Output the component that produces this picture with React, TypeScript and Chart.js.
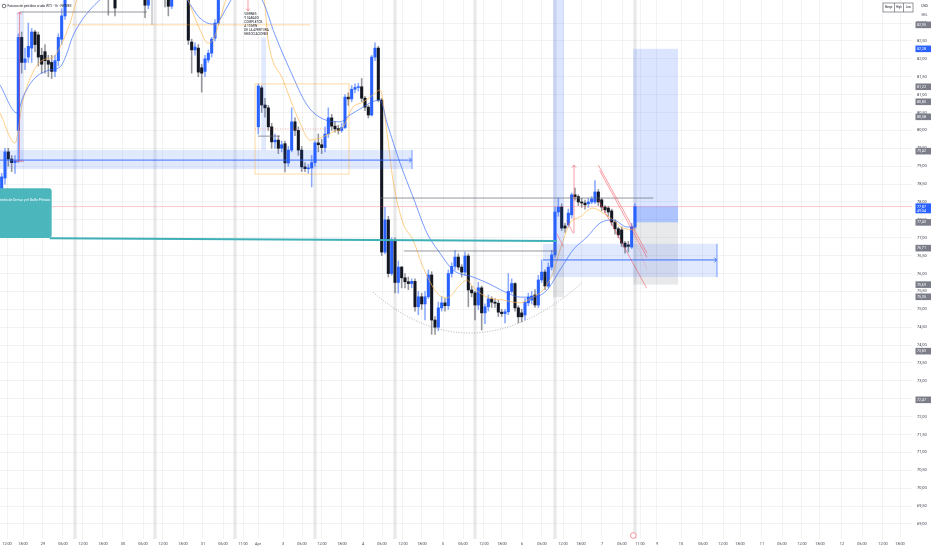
import { useEffect, useRef } from "react";
import { Chart, registerables } from "chart.js";

Chart.register(...registerables);

// ---------- candles (one per hourly slot, index = slot) ----------
const OPEN = [
  78.05, 78.67, 79.4, 79.2, 79.1, 80.0, 82.6, 81.9, 82.05, 82.3,
  82.75, 82.67, 82.1, 82.2, 81.95, 81.9, 81.65, 81.95, 82.55, 83.2,
  83.9, 84.2, 84.5, 84.3, 84.8, 85.0, 84.8, 84.6, 84.7, 84.9,
  84.7, 84.4, 84.1, 83.9, 84.3, 83.75, 84.0, 84.2, 84.4, 84.3,
  84.1, 83.95, 84.05, 84.0, 83.5, 83.8, 84.1, 84.0, 84.2, 84.3,
  83.9, 83.47, 83.85, 84.15, 84.0, 84.05, 83.8, 82.47, 82.25, 82.3,
  81.75, 81.65, 81.97, 82.16, 82.58, 83.0, 83.7, 84.1, 84.4, 84.6,
  84.5, 84.4, 84.3, 84.2, 84.1, 84.0, 83.95, 80.1, 81.19, 80.71,
  80.63, 80.1, 79.68, 79.73, 79.5, 79.63, 79.09, 79.45, 80.24, 80.0,
  79.45, 78.98, 78.93, 78.95, 79.1, 79.65, 79.6, 79.52, 79.9, 80.35,
  80.12, 80.05, 80.0, 80.08, 80.93, 80.88, 81.15, 81.2, 81.22, 80.9,
  80.65, 80.43, 82.05, 82.3, 80.85, 76.6, 77.5, 76.0, 76.9, 75.75,
  76.18, 75.88, 75.77, 75.72, 75.78, 75.07, 75.35, 75.15, 75.35, 75.96,
  74.7, 74.5, 75.04, 75.18, 75.1, 76.0, 76.2, 76.46, 76.18, 76.04,
  76.49, 75.54, 75.46, 75.12, 75.6, 74.9, 75.07, 75.29, 75.2, 75.17,
  74.92, 74.88, 74.93, 75.5, 75.72, 75.04, 74.9, 74.84, 75.18, 75.26,
  75.4, 75.12, 75.82, 76.04, 75.65, 76.18, 76.52, 77.72, 77.86, 77.33,
  77.36, 77.64, 78.2, 78.15, 78.0, 77.97, 77.95, 78.0, 78.0, 78.28,
  78.06, 77.86, 77.83, 77.75, 77.44, 77.25, 77.22, 76.85, 76.8, 76.74,
  77.3,
];
const HIGH = [
  78.8, 79.5, 79.5, 79.3, 79.3, 82.7, 82.75, 82.3, 83.0, 82.85,
  82.8, 82.75, 82.3, 82.4, 82.1, 82.1, 82.1, 82.7, 83.4, 84.1,
  84.4, 84.7, 84.8, 84.9, 85.2, 85.3, 85.0, 84.9, 85.1, 85.2,
  84.9, 84.6, 84.3, 84.4, 84.5, 84.2, 84.4, 84.6, 84.7, 84.5,
  84.3, 84.2, 84.2, 84.1, 83.9, 84.2, 84.4, 84.3, 84.5, 84.4,
  84.0, 83.95, 84.3, 84.4, 84.2, 84.2, 83.9, 82.55, 82.45, 82.4,
  81.85, 82.1, 82.25, 82.6, 83.1, 83.9, 84.3, 84.5, 84.8, 84.9,
  84.7, 84.6, 84.5, 84.4, 84.3, 84.2, 84.1, 81.3, 81.25, 80.9,
  80.7, 80.2, 79.9, 79.85, 79.7, 79.7, 79.55, 80.63, 80.35, 80.1,
  79.55, 79.1, 79.05, 79.3, 79.7, 79.9, 79.75, 80.1, 80.63, 80.45,
  80.25, 80.15, 80.2, 81.0, 81.05, 81.25, 81.3, 81.32, 81.45, 80.95,
  80.7, 82.1, 82.45, 82.35, 80.9, 77.85, 77.6, 77.0, 77.0, 76.35,
  76.2, 76.0, 75.9, 75.85, 75.85, 75.5, 75.45, 75.5, 76.1, 76.05,
  74.8, 75.2, 75.35, 75.3, 76.1, 76.3, 76.65, 76.55, 76.25, 76.6,
  76.55, 75.65, 75.5, 75.75, 75.65, 75.15, 75.4, 75.35, 75.3, 75.25,
  75.0, 75.0, 76.0, 75.85, 75.75, 75.1, 75.0, 75.3, 75.45, 75.5,
  75.55, 75.95, 76.38, 76.1, 76.3, 76.65, 77.85, 78.11, 77.95, 77.4,
  77.8, 78.25, 78.39, 78.2, 78.1, 78.05, 78.1, 78.15, 78.6, 78.35,
  78.1, 77.9, 77.88, 77.8, 77.5, 77.3, 77.3, 76.9, 76.9, 77.4,
  77.95,
];
const LOW = [
  77.8, 78.5, 79.0, 78.85, 78.8, 79.1, 81.6, 81.7, 81.9, 81.9,
  82.2, 81.8, 81.6, 81.6, 81.5, 81.45, 81.5, 81.8, 82.4, 83.1,
  83.7, 84.0, 84.1, 84.2, 84.5, 84.6, 84.4, 84.3, 84.5, 84.6,
  84.2, 83.9, 83.22, 83.8, 83.2, 83.7, 83.8, 84.0, 84.1, 83.9,
  83.8, 83.75, 83.7, 83.15, 83.4, 83.7, 83.9, 83.75, 84.0, 83.45,
  83.2, 83.4, 83.75, 83.9, 83.8, 83.7, 82.4, 81.6, 82.1, 81.5,
  81.07, 81.5, 81.9, 82.05, 82.5, 82.95, 83.65, 83.9, 84.2, 84.3,
  84.2, 84.1, 84.0, 83.9, 83.85, 83.8, 83.75, 79.9, 80.5, 80.37,
  80.0, 79.5, 79.5, 79.35, 79.4, 78.84, 79.0, 79.4, 79.85, 79.3,
  78.85, 78.85, 78.8, 78.42, 79.0, 79.4, 79.35, 79.4, 79.8, 80.0,
  79.95, 79.9, 79.95, 80.05, 80.7, 80.8, 81.05, 81.1, 80.8, 80.55,
  80.35, 80.4, 81.95, 80.8, 76.5, 76.55, 75.9, 75.95, 75.46, 75.45,
  75.6, 75.6, 75.55, 75.6, 74.95, 74.85, 75.0, 74.7, 75.3, 74.3,
  74.3, 74.4, 74.95, 74.95, 75.0, 75.9, 76.1, 76.1, 75.9, 75.95,
  75.07, 75.35, 74.7, 75.0, 74.42, 74.6, 74.95, 75.05, 75.05, 74.8,
  74.8, 74.62, 74.85, 75.45, 74.95, 74.62, 74.65, 74.7, 75.1, 75.15,
  75.05, 75.05, 75.75, 75.55, 75.6, 76.1, 76.45, 77.6, 77.2, 77.15,
  77.3, 77.55, 78.05, 77.9, 77.85, 77.8, 77.85, 77.95, 77.95, 77.9,
  77.75, 77.7, 77.6, 77.35, 77.1, 77.0, 76.75, 76.57, 76.6, 76.7,
  77.25,
];
const CLOSE = [
  78.7, 79.4, 79.2, 79.1, 79.15, 82.6, 81.9, 82.0, 82.35, 82.75,
  82.4, 82.05, 81.85, 81.95, 81.85, 81.65, 81.95, 82.6, 83.2, 83.9,
  84.2, 84.5, 84.3, 84.8, 85.0, 84.8, 84.6, 84.7, 84.9, 84.7,
  84.4, 84.1, 83.9, 84.3, 83.42, 84.0, 84.2, 84.4, 84.3, 84.1,
  83.95, 84.05, 83.8, 83.5, 83.8, 84.1, 84.0, 84.2, 84.3, 83.9,
  83.47, 83.85, 84.15, 84.0, 84.05, 83.8, 82.52, 82.25, 82.33, 81.63,
  81.6, 82.0, 82.16, 82.55, 83.0, 83.7, 84.1, 84.4, 84.6, 84.5,
  84.4, 84.3, 84.2, 84.1, 84.0, 83.95, 83.9, 81.24, 80.71, 80.63,
  80.1, 79.68, 79.73, 79.5, 79.6, 79.09, 79.45, 80.24, 80.0, 79.45,
  78.98, 78.93, 78.95, 79.1, 79.65, 79.6, 79.52, 79.9, 80.35, 80.12,
  80.04, 80.0, 80.08, 80.93, 80.88, 81.15, 81.2, 81.22, 80.9, 80.65,
  80.43, 82.05, 82.3, 80.85, 76.6, 77.5, 76.0, 76.9, 75.75, 76.18,
  75.88, 75.77, 75.72, 75.78, 75.07, 75.35, 75.15, 75.35, 75.96, 74.7,
  74.5, 75.04, 75.18, 75.1, 76.0, 76.2, 76.46, 76.18, 76.04, 76.49,
  75.54, 75.46, 75.12, 75.6, 74.9, 75.07, 75.29, 75.2, 75.17, 74.92,
  74.88, 74.93, 75.5, 75.72, 75.04, 74.79, 74.79, 75.2, 75.34, 75.37,
  75.12, 75.82, 76.04, 75.65, 76.18, 76.52, 77.72, 77.86, 77.27, 77.27,
  77.69, 78.2, 78.15, 78.0, 77.97, 77.92, 78.0, 78.08, 78.28, 78.0,
  77.86, 77.78, 77.72, 77.44, 77.25, 77.08, 76.85, 76.74, 76.76, 77.3,
  77.87,
];

// ---------- moving averages (slot, price) ----------
const EMA_SLOW_X = [0, 5.1, 6.9, 9.9, 15, 18, 20.1, 21.6, 24, 27, 30, 33, 36, 45, 52.5, 56.1, 60, 63.9, 65.4, 68.1, 70.5, 75, 78.6, 82.5, 87, 92.1, 96.9, 102, 105, 108.9, 111, 114, 116.1, 120, 123.9, 128.1, 132, 135.9, 141.9, 146.1, 152.1, 156, 159.9, 164.1, 168, 171.9, 176.1, 180, 183.9, 188.1, 190.5];
const EMA_SLOW_Y = [81.27, 80.49, 80.93, 81.41, 81.69, 81.77, 82.16, 82.58, 83.0, 83.37, 83.65, 83.9, 84.2, 84.5, 84.05, 83.65, 83.14, 82.97, 83.03, 83.45, 83.8, 83.93, 83.65, 82.67, 81.69, 80.71, 80.32, 80.24, 80.43, 80.65, 80.77, 80.85, 80.21, 79.09, 78.14, 77.13, 76.57, 76.1, 75.9, 75.74, 75.46, 75.34, 75.34, 75.54, 76.1, 76.66, 77.02, 77.41, 77.5, 77.3, 77.3];
const EMA_FAST_X = [0, 4.5, 6.9, 9.9, 12.9, 15.9, 18.6, 21, 23.1, 30, 42, 54, 56.4, 60, 62.4, 64.2, 66, 67.8, 72, 79.2, 80.4, 84.9, 90, 93, 96.9, 99.9, 102.9, 105.9, 108.9, 111.9, 114, 116.1, 117.9, 120.9, 123.9, 126.9, 131.1, 134.1, 138, 140.1, 141.9, 146.1, 150.9, 156, 159.9, 162.9, 165.9, 168, 171, 174, 177.9, 180.9, 183.9, 186.9, 190.5];
const EMA_FAST_Y = [80.49, 79.65, 80.85, 81.63, 81.97, 82.05, 82.44, 83.0, 83.65, 84.5, 84.6, 84.2, 83.65, 82.81, 82.44, 82.58, 83.09, 83.65, 84.05, 83.65, 82.53, 81.41, 80.21, 79.73, 79.82, 79.96, 80.1, 80.65, 80.79, 80.99, 81.13, 79.93, 78.61, 77.41, 76.94, 76.18, 75.46, 75.32, 75.68, 75.82, 75.62, 75.34, 75.26, 75.18, 75.34, 75.54, 76.02, 76.66, 77.41, 77.58, 77.83, 77.69, 77.5, 77.27, 77.22];

// ---------- axes ----------
const X_TICK_SLOTS = [2.1, 6.9, 12.9, 18.9, 24.9, 30.9, 36.9, 42.9, 48.9, 54.9, 60.9, 66.9, 72.9, 77.4, 84.9, 90.6, 96.6, 102.6, 108.9, 114.6, 120.9, 126.6, 132.9, 138.9, 145.2, 150.6, 156.6, 162.6, 168.9, 174.3, 180.6, 186.6, 192.0, 197.1, 204.3, 210.9, 216.9, 222.0, 228.6, 234.6, 240.6, 246.0, 252.6, 258.6, 264.9, 270.0];
const X_TICK_LABELS = ["12:00", "18:00", "29", "06:00", "12:00", "18:00", "30", "06:00", "12:00", "18:00", "31", "06:00", "11:00", "Apr", "3", "06:00", "12:00", "18:00", "4", "06:00", "12:00", "18:00", "5", "06:00", "12:00", "18:00", "6", "06:00", "12:00", "18:00", "7", "06:00", "11:00", "9", "10", "06:00", "12:00", "18:00", "11", "06:00", "12:00", "18:00", "12", "06:00", "12:00", "18:00"];
const Y_TICKS = [69, 69.5, 70, 70.5, 71, 71.5, 72, 72.5, 73, 73.5, 74, 74.5, 75, 75.5, 76, 76.5, 77, 77.5, 78, 78.5, 79, 79.5, 80, 80.5, 81, 81.5, 82, 82.5, 83];
const X_MIN = 0, X_MAX = 273.6;
const Y_MIN = 68.58, Y_MAX = 83.645;

// ---------- drawings (data units: slot, price) ----------
const SESSION_BREAKS = [22, 46, 70, 94, 118, 142, 166, 190];
const LAST_PRICE = 77.87;
const COUNTDOWN = "49:54";
const SUPPORT_BANDS = [
  { x0: 0, x1: 123.6, top: 79.45, bottom: 78.92, mid: 79.17 },
  { x0: 162.9, x1: 215.1, top: 76.83, bottom: 75.9, mid: 76.38 },
];
const LONG_POSITIONS = [
  { x0: 165.9, x1: 169.2, target: 84.2, entry: 76.83, stop: 75.34, live: false },
  { x0: 190.0, x1: 203.4, target: 82.28, entry: 77.43, stop: 75.69, live: true },
];
const MEASURE_STRIPS = [
  { x0: 5.0, x1: 7.0, top: 83.31, bottom: 79.11 },
  { x0: 78.4, x1: 79.8, top: 82.6, bottom: 79.45 },
];
const GRAY_LINES = [
  { x0: 6, x1: 44.1, p: 83.31 },
  { x0: 114, x1: 196, p: 78.11 },
  { x0: 121.2, x1: 167.1, p: 76.63 },
  { x0: 77.4, x1: 84, p: 79.84 },
];
const GRAY_VLINE = { x: 45.6, from: 83.65, to: 82.95 };
const ORANGE_BOX = { x0: 76.5, x1: 104.7, top: 81.3, bottom: 78.78 };
const ORANGE_LINE = { x0: 21.6, x1: 93.0, p: 82.95 };
const PINK_DOTTED = { x0: 76.5, x1: 99, p: 80.04 };
const CALLOUT = { x0: -6, x1: 15.5, top: 78.38, bottom: 76.99, textP: 78.05, text: "Estrecho de Ormuz y el Golfo Pérsico", toX: 167.1, toP: 76.91 };
const ARC = [[111.9, 75.48], [142.5, 74.34], [174.6, 75.74]];
const CHANNEL = [
  [[179.5, 79.03], [194.1, 76.57]],
  [[179.9, 78.88], [194.1, 76.45]],
  [[179.5, 78.06], [194.0, 75.59]],
];
const CHANNEL_MID = [[190.0, 77.1], [194.1, 76.1]];
const UP_ARROW = { x: 172.2, from: 77.13, to: 79.03 };
const ZIGZAG = [
  [[167.0, 77.12], [169.0, 76.75]],
  [[170.0, 77.48], [172.0, 77.12]],
];
const RANGE_ARROW = { x: 5.85, from: 79.14, to: 83.31, t0: 4.5, t1: 7.2 };
const NOTE = {
  x: 73.3, arrowX: 74.4, arrowFrom: 83.65, arrowTo: 83.34,
  lines: ["VIERNES", "Y SABADO", "COMPLETOS", "A 10 MIN", "DE LA APERTURA", "NEGOCIACIONES"],
  prices: [83.25, 83.13, 83.02, 82.91, 82.8, 82.69],
};
const AXIS_TAGS = [
  { v: 82.95, blue: false }, { v: 82.28, blue: true }, { v: 81.22, blue: false },
  { v: 80.8, blue: false }, { v: 80.38, blue: false }, { v: 79.42, blue: false },
  { v: 77.87, blue: true, sub: COUNTDOWN }, { v: 77.43, blue: false }, { v: 76.71, blue: false },
  { v: 75.69, blue: false }, { v: 75.35, blue: false }, { v: 73.83, blue: false }, { v: 72.47, blue: false },
];
const TITLE = "Futuros de petróleo crudo WTI · 1h · NYMEX";
const EVENT_SLOT = 190;

const FONT = "Roboto, 'Liberation Sans', Arial, sans-serif";
const fmt = (v: number) => v.toFixed(2).replace(".", ",");

const zeroPadding = (s: any) => {
  s.paddingTop = 0;
  s.paddingBottom = 0;
  s.paddingLeft = 0;
  s.paddingRight = 0;
};

const drawings = {
  id: "tvDrawings",
  beforeDatasetsDraw(chart: any) {
    const { ctx, chartArea: a, scales } = chart;
    const X = (v: number) => scales.x.getPixelForValue(v);
    ctx.save();
    ctx.fillStyle = "rgba(120,123,134,0.17)";
    for (const s of SESSION_BREAKS) {
      const c = X(s + 0.5);
      ctx.fillRect(c - 1.6, a.top, 3.2, a.bottom - a.top);
    }
    ctx.restore();
  },
  afterDatasetsDraw(chart: any) {
    const { ctx, chartArea: a, scales } = chart;
    const X = (v: number) => scales.x.getPixelForValue(v);
    const Y = (v: number) => scales.y.getPixelForValue(v);
    const rect = (x0: number, x1: number, p0: number, p1: number, fill: string) => {
      const l = X(x0), r = X(x1), t = Y(Math.max(p0, p1)), b = Y(Math.min(p0, p1));
      ctx.fillStyle = fill;
      ctx.fillRect(l, t, r - l, b - t);
    };
    const seg = (x0: number, y0: number, x1: number, y1: number, color: string, w: number, dash: number[] = []) => {
      ctx.beginPath();
      ctx.setLineDash(dash);
      ctx.strokeStyle = color;
      ctx.lineWidth = w;
      ctx.moveTo(x0, y0);
      ctx.lineTo(x1, y1);
      ctx.stroke();
      ctx.setLineDash([]);
    };
    ctx.save();
    ctx.beginPath();
    ctx.rect(a.left, a.top, a.right - a.left, a.bottom - a.top);
    ctx.clip();

    // last price line
    seg(a.left, Y(LAST_PRICE), a.right, Y(LAST_PRICE), "rgba(242,54,69,0.35)", 0.8);

    // measure strips
    for (const m of MEASURE_STRIPS) rect(m.x0, m.x1, m.top, m.bottom, "rgba(41,98,255,0.14)");

    // long positions
    for (const lp of LONG_POSITIONS) {
      rect(lp.x0, lp.x1, lp.target, lp.entry, "rgba(41,98,255,0.17)");
      if (lp.live) rect(lp.x0, lp.x1, LAST_PRICE, lp.entry, "rgba(41,98,255,0.25)");
      rect(lp.x0, lp.x1, lp.entry, lp.stop, "rgba(120,123,134,0.17)");
    }

    // support bands with arrow
    for (const b of SUPPORT_BANDS) {
      rect(b.x0, b.x1, b.top, b.bottom, "rgba(41,98,255,0.14)");
      const r = X(b.x1), m = Y(b.mid);
      seg(X(b.x0), m, r - 0.5, m, "#2962ff", 0.9);
      seg(r - 2.6, m - 2.4, r - 0.5, m, "#2962ff", 0.8);
      seg(r - 2.6, m + 2.4, r - 0.5, m, "#2962ff", 0.8);
      seg(r, Y(b.top), r, Y(b.bottom), "rgba(41,98,255,0.8)", 0.8);
    }

    // orange box and line
    ctx.strokeStyle = "rgba(255,152,0,0.45)";
    ctx.lineWidth = 0.8;
    ctx.strokeRect(X(ORANGE_BOX.x0), Y(ORANGE_BOX.top), X(ORANGE_BOX.x1) - X(ORANGE_BOX.x0), Y(ORANGE_BOX.bottom) - Y(ORANGE_BOX.top));
    seg(X(ORANGE_LINE.x0), Y(ORANGE_LINE.p), X(ORANGE_LINE.x1), Y(ORANGE_LINE.p), "rgba(255,152,0,0.45)", 0.8);
    seg(X(PINK_DOTTED.x0), Y(PINK_DOTTED.p), X(PINK_DOTTED.x1), Y(PINK_DOTTED.p), "rgba(242,54,69,0.55)", 0.7, [1, 1.5]);

    // gray lines
    for (const g of GRAY_LINES) seg(X(g.x0), Y(g.p), X(g.x1), Y(g.p), "rgba(99,102,112,0.85)", 0.8);
    seg(X(GRAY_VLINE.x), Y(GRAY_VLINE.from), X(GRAY_VLINE.x), Y(GRAY_VLINE.to), "rgba(99,102,112,0.7)", 0.8);

    // teal callout
    const cl = X(CALLOUT.x0), cr = X(CALLOUT.x1), ct = Y(CALLOUT.top), cb = Y(CALLOUT.bottom);
    seg(cr - 2, cb + 0.2, X(CALLOUT.toX), Y(CALLOUT.toP), "#3fb0b8", 2);
    ctx.fillStyle = "#4cb6bd";
    ctx.beginPath();
    ctx.roundRect(cl, ct, cr - cl, cb - ct, 3);
    ctx.fill();
    ctx.fillStyle = "#ffffff";
    ctx.font = `3.4px ${FONT}`;
    ctx.textAlign = "right";
    ctx.textBaseline = "middle";
    ctx.fillText(CALLOUT.text, cr - 1.5, Y(CALLOUT.textP));

    // dotted arc
    const [s, mm, e] = ARC.map(([xv, pv]) => [X(xv), Y(pv)]);
    ctx.beginPath();
    ctx.setLineDash([1, 1.6]);
    ctx.strokeStyle = "rgba(120,123,134,0.75)";
    ctx.lineWidth = 0.8;
    ctx.moveTo(s[0], s[1]);
    ctx.quadraticCurveTo(2 * mm[0] - (s[0] + e[0]) / 2, 2 * mm[1] - (s[1] + e[1]) / 2, e[0], e[1]);
    ctx.stroke();
    ctx.setLineDash([]);

    // pink channel
    for (const [[x0, p0], [x1, p1]] of CHANNEL) seg(X(x0), Y(p0), X(x1), Y(p1), "rgba(242,54,69,0.6)", 0.8);
    seg(X(CHANNEL_MID[0][0]), Y(CHANNEL_MID[0][1]), X(CHANNEL_MID[1][0]), Y(CHANNEL_MID[1][1]), "rgba(242,54,69,0.5)", 0.7, [1, 1.5]);
    for (const [[x0, p0], [x1, p1]] of ZIGZAG) seg(X(x0), Y(p0), X(x1), Y(p1), "rgba(242,54,69,0.55)", 0.8);

    // up arrow
    const ux = X(UP_ARROW.x), ut = Y(UP_ARROW.to);
    seg(ux, Y(UP_ARROW.from), ux, ut, "rgba(242,54,69,0.6)", 0.8);
    seg(ux - 2.2, ut + 2.6, ux, ut, "rgba(242,54,69,0.6)", 0.8);
    seg(ux + 2.2, ut + 2.6, ux, ut, "rgba(242,54,69,0.6)", 0.8);

    // price range arrow (left)
    const rx = X(RANGE_ARROW.x), rt = Y(RANGE_ARROW.to), rb = Y(RANGE_ARROW.from);
    seg(rx, rb, rx, rt, "rgba(242,54,69,0.6)", 0.8);
    seg(rx - 2.2, rt + 2.6, rx, rt, "rgba(242,54,69,0.6)", 0.8);
    seg(rx + 2.2, rt + 2.6, rx, rt, "rgba(242,54,69,0.6)", 0.8);
    seg(X(RANGE_ARROW.t0), rb, X(RANGE_ARROW.t1), rb, "rgba(242,54,69,0.6)", 0.8);

    // note with down arrow
    const nx = X(NOTE.arrowX), nb = Y(NOTE.arrowTo);
    seg(nx, Y(NOTE.arrowFrom), nx, nb, "rgba(242,54,69,0.6)", 0.8);
    seg(nx - 1.8, nb - 2.2, nx, nb, "rgba(242,54,69,0.6)", 0.8);
    seg(nx + 1.8, nb - 2.2, nx, nb, "rgba(242,54,69,0.6)", 0.8);
    ctx.fillStyle = "#131722";
    ctx.font = `3.1px ${FONT}`;
    ctx.textAlign = "left";
    ctx.textBaseline = "middle";
    NOTE.lines.forEach((t, i) => ctx.fillText(t, X(NOTE.x), Y(NOTE.prices[i])));

    ctx.restore();
  },
  afterDraw(chart: any) {
    const { ctx, chartArea: a, scales } = chart;
    const X = (v: number) => scales.x.getPixelForValue(v);
    const Y = (v: number) => scales.y.getPixelForValue(v);
    ctx.save();
    // price tags on axis
    ctx.textAlign = "left";
    ctx.textBaseline = "middle";
    for (const t of AXIS_TAGS) {
      const yy = Y(t.v);
      const h = t.sub ? 10 : 6.6;
      ctx.fillStyle = t.blue ? "#2962ff" : "#7b7e89";
      ctx.fillRect(a.right + 3.5, yy - 3.3, 15.5, h);
      ctx.fillStyle = "#ffffff";
      ctx.font = `3.7px ${FONT}`;
      ctx.fillText(fmt(t.v), a.right + 5, yy);
      if (t.sub) ctx.fillText(t.sub, a.right + 5, yy + 4.4);
    }
    // title
    ctx.fillStyle = "#131722";
    ctx.font = `3.3px ${FONT}`;
    ctx.fillText(TITLE, 7.5, 6);
    ctx.beginPath();
    ctx.strokeStyle = "#131722";
    ctx.lineWidth = 0.6;
    ctx.arc(4, 6, 1.8, 0, Math.PI * 2);
    ctx.stroke();
    // range/high/low buttons
    ctx.fillStyle = "#ffffff";
    ctx.fillRect(883, 3, 30, 9);
    ctx.strokeStyle = "#50535e";
    ctx.lineWidth = 0.6;
    ctx.strokeRect(883, 3, 30, 9);
    ctx.beginPath();
    ctx.moveTo(894.5, 3); ctx.lineTo(894.5, 12);
    ctx.moveTo(903.5, 3); ctx.lineTo(903.5, 12);
    ctx.stroke();
    ctx.fillStyle = "#131722";
    ctx.font = `2.7px ${FONT}`;
    ctx.textAlign = "center";
    ctx.fillText("Range", 888.7, 7.6);
    ctx.fillText("High", 899, 7.6);
    ctx.fillText("Low", 908.2, 7.6);
    ctx.font = `3.4px ${FONT}`;
    ctx.fillText("USD", 924.5, 6);
    ctx.fillStyle = "#6a6d78";
    ctx.fillText("BBL", 924.5, 15);
    // event marker
    ctx.beginPath();
    ctx.fillStyle = "#ffffff";
    ctx.strokeStyle = "rgba(242,54,69,0.75)";
    ctx.lineWidth = 0.7;
    ctx.arc(X(EVENT_SLOT), a.bottom - 3.5, 2.8, 0, Math.PI * 2);
    ctx.fill();
    ctx.stroke();
    ctx.restore();
  },
};

export default function App() {
  const ref = useRef<HTMLCanvasElement>(null);
  useEffect(() => {
    document.body.style.margin = "0";
    const slots = OPEN.map((_, i) => i);
    const up = slots.map((i) => CLOSE[i] >= OPEN[i]);
    const chart = new Chart(ref.current as HTMLCanvasElement, {
      type: "bar",
      data: {
        datasets: [
          {
            type: "line",
            label: "EMA lenta",
            data: EMA_SLOW_X.map((x, i) => ({ x, y: EMA_SLOW_Y[i] })),
            borderColor: "rgba(41,98,255,0.7)",
            borderWidth: 0.9,
            pointRadius: 0,
            cubicInterpolationMode: "monotone",
            order: 0,
          },
          {
            type: "line",
            label: "EMA rápida",
            data: EMA_FAST_X.map((x, i) => ({ x, y: EMA_FAST_Y[i] })),
            borderColor: "rgba(255,183,77,0.75)",
            borderWidth: 0.9,
            pointRadius: 0,
            cubicInterpolationMode: "monotone",
            order: 0,
          },
          {
            type: "bar",
            label: "mechas",
            data: slots.map((i) => ({ x: i + 0.5, y: [LOW[i], HIGH[i]] })),
            backgroundColor: slots.map((i) => (up[i] ? "rgba(41,98,255,0.55)" : "rgba(19,23,34,0.45)")),
            barThickness: 0.9,
            grouped: false,
            order: 2,
          },
          {
            type: "bar",
            label: "cuerpos",
            data: slots.map((i) => ({ x: i + 0.5, y: [Math.min(OPEN[i], CLOSE[i]), Math.max(OPEN[i], CLOSE[i])] })),
            backgroundColor: slots.map((i) => (up[i] ? "#2962ff" : "#131722")),
            barThickness: 2.4,
            minBarLength: 0.8,
            grouped: false,
            order: 1,
          },
        ] as any,
      },
      options: {
        animation: false,
        responsive: false,
        events: [],
        layout: { padding: 0 },
        plugins: { legend: { display: false }, tooltip: { enabled: false } },
        scales: {
          x: {
            type: "linear",
            min: X_MIN,
            max: X_MAX,
            offset: false,
            position: "bottom",
            grid: { color: "rgba(42,46,57,0.06)", drawTicks: false, offset: false },
            border: { display: false },
            afterBuildTicks: (s: any) => {
              s.ticks = X_TICK_SLOTS.map((v) => ({ value: v }));
            },
            afterFit: (s: any) => {
              s.height = 11;
              zeroPadding(s);
            },
            ticks: {
              autoSkip: false,
              maxRotation: 0,
              padding: 3,
              color: "#3a3e4a",
              font: { size: 3.8, family: FONT },
              callback: (_v: any, i: number) => X_TICK_LABELS[i],
            },
          },
          y: {
            type: "linear",
            position: "right",
            min: Y_MIN,
            max: Y_MAX,
            grid: { color: "rgba(42,46,57,0.06)", drawTicks: false },
            border: { display: false },
            afterBuildTicks: (s: any) => {
              s.ticks = Y_TICKS.map((v) => ({ value: v }));
            },
            afterFit: (s: any) => {
              s.width = 20;
              zeroPadding(s);
            },
            ticks: {
              padding: 5,
              color: "#3a3e4a",
              font: { size: 4, family: FONT },
              callback: (v: any) => fmt(Number(v)),
            },
          },
        },
      } as any,
      plugins: [drawings],
    });
    return () => chart.destroy();
  }, []);
  return (
    <div style={{ width: 932, height: 550, background: "#ffffff" }}>
      <canvas ref={ref} width={932} height={550} style={{ display: "block", width: 932, height: 550 }} />
    </div>
  );
}
